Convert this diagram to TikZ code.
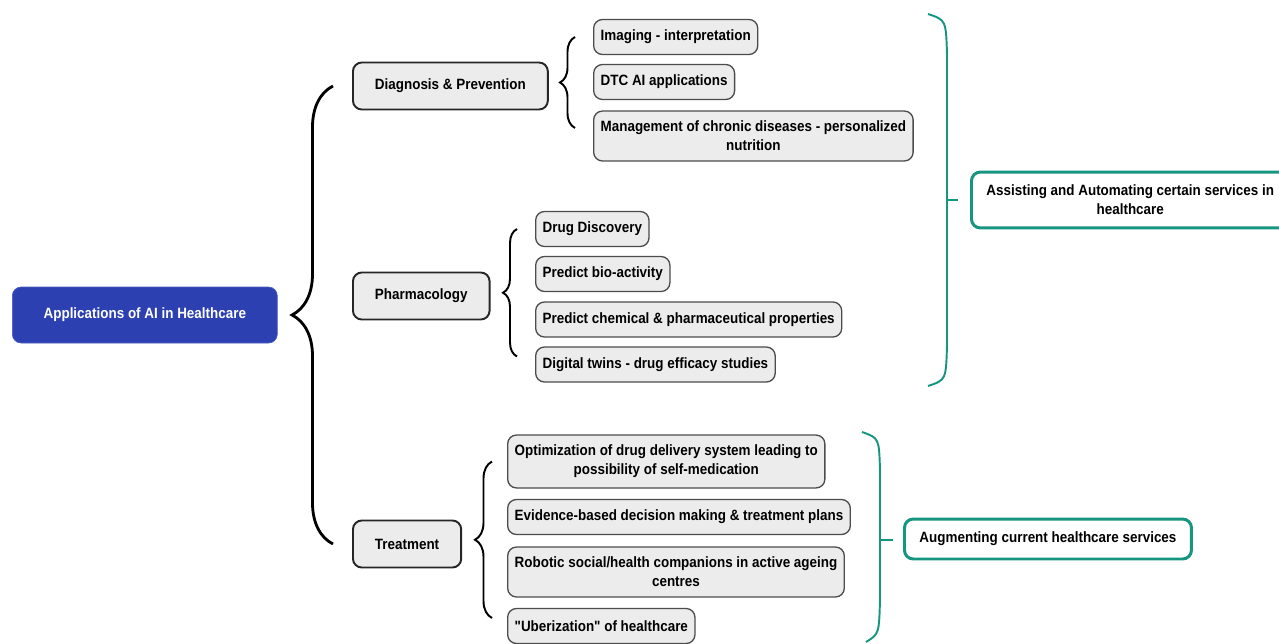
\documentclass[tikz,border=0pt]{standalone}
\usepackage{fontspec}
\setmainfont[FakeStretch=0.9,Ligatures=TeXOff]{Liberation Sans}
\usetikzlibrary{decorations.pathreplacing,calc}
\definecolor{aiblue}{RGB}{44,64,178}
\definecolor{aiteal}{RGB}{22,150,128}
\definecolor{boxgrey}{RGB}{236,236,236}
\tikzset{
  base/.style={rounded corners=5pt,font=\fontsize{8.5}{10.8}\selectfont\bfseries,align=center},
  topic/.style={base,draw=black!85,line width=1.1pt,fill=boxgrey,inner xsep=0.44cm,minimum height=0.94cm,anchor=west},
  leaf/.style={base,draw=black!70,line width=0.75pt,fill=boxgrey,inner xsep=0.14cm,inner ysep=0.2cm,minimum height=0.7cm,anchor=west},
  goal/.style={base,draw=aiteal,line width=1.7pt,fill=white,inner xsep=0.3cm,inner ysep=0.26cm,minimum height=0.8cm,anchor=west},
  curly/.style={decorate,decoration={brace,amplitude=#1},line width=1.1pt},
  tealline/.style={draw=aiteal,line width=1.1pt}
}
\begin{document}
\begin{tikzpicture}[x=0.02cm,y=-0.02cm]
\useasboundingbox (0,0) rectangle (1279,643);
\node (ai)[base,fill=aiblue,draw=aiblue!85,text=white,minimum width=5.3cm,minimum height=1.12cm,anchor=west] at (12,315) {Applications of AI in Healthcare};
% three fields
\node (diag)[topic] at (352,86) {Diagnosis \& Prevention};
\node (pharm)[topic] at (352,296) {Pharmacology};
\node (trt)[topic] at (352,544) {Treatment};
% leaves of each field
\foreach \name/\y/\txt in {img/37/{Imaging - interpretation},dtc/82/{DTC AI applications},mgmt/136/{Management of chronic diseases - personalized\\nutrition}}
  \node (\name)[leaf] at (593,\y) {\txt};
\foreach \name/\y/\txt in {drug/229/{Drug Discovery},bio/274/{Predict bio-activity},chem/319.5/{Predict chemical \& pharmaceutical properties},twin/364.5/{Digital twins - drug efficacy studies}}
  \node (\name)[leaf] at (535,\y) {\txt};
\foreach \name/\y/\txt in {opt/461.5/{Optimization of drug delivery system leading to\\possibility of self-medication},evid/517/{Evidence-based decision making \& treatment plans},robo/572/{Robotic social/health companions in active ageing\\centres},uber/626/{"Uberization" of healthcare}}
  \node (\name)[leaf] at (507,\y) {\txt};
% outcomes
\node (assist)[goal] at (970,200) {Assisting and Automating certain services in\\healthcare};
\node (augm)[goal] at (903,539) {Augmenting current healthcare services};
% black braces
\draw[curly=0.82cm,line width=1.6pt] ($(trt.west)+(-19,0)$) -- ($(diag.west)+(-19,0)$);
\foreach \from/\to/\dx/\amp in {mgmt/img/-18/0.3cm,twin/drug/-18/0.28cm,uber/opt/-15/0.34cm}
  \draw[curly=\amp] ($(\from.west)+(\dx,-8)$) -- ($(\to.west)+(\dx,0)$);
% teal brackets
\coordinate (t1) at (958,200);
\coordinate (t2) at (893,540);
\draw[tealline] (928,14) .. controls (946,20) .. (947,55) -- (947,345) .. controls (946,380) .. (928,386);
\draw[tealline] (947,200) -- (t1);
\draw[tealline] (862,432) .. controls (879,438) .. (880,470) -- (880,600) .. controls (879,634) .. (866,642);
\draw[tealline] (880,540) -- (t2);
\end{tikzpicture}
\end{document}
